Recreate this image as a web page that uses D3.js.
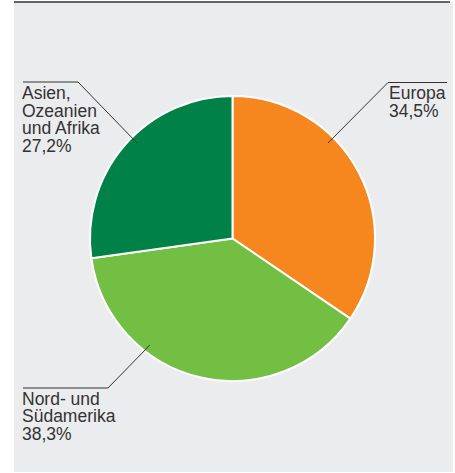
<!DOCTYPE html>
<html>
<head>
<meta charset="utf-8">
<script src="https://cdn.jsdelivr.net/npm/d3@7"></script>
<style>
  html, body { margin: 0; padding: 0; background: #fff; }
  svg { display: block; }
  .label { font-family: "Liberation Sans", Arial, sans-serif; font-size: 17.5px; fill: #333; }
</style>
</head>
<body>
<svg id="chart" width="455" height="473"></svg>
<script>
// data
const regions = ['Europa', 'Nord- und Südamerika', 'Asien, Ozeanien und Afrika'];
const shares = [34.5, 38.3, 27.2];
const labelLines = [
  ['Europa', '34,5%'],
  ['Nord- und', 'Südamerika', '38,3%'],
  ['Asien,', 'Ozeanien', 'und Afrika', '27,2%'],
];
const colors = ['#f6871f', '#73bf44', '#008147'];

// leader layout: angle on pie (deg, clockwise from top), elbow point, end of horizontal, text anchor
const leaders = [
  { angle: 45, elbow: [388, 82.5], end: [447, 82.5], text: [389, 99] },
  { angle: 217.8, elbow: [108, 388], end: [23, 388], text: [22, 404.5] },
  { angle: 315, elbow: [78, 82], end: [23, 82], text: [22, 99] },
];

const svg = d3.select('#chart');

const cx = 232.5;
const cy = 238.5;
const radius = 142.5;

// panel
svg.append('rect')
  .attr('x', 14).attr('y', 2)
  .attr('width', 439).attr('height', 470)
  .attr('fill', '#ebeced');

svg.append('line')
  .attr('x1', 14).attr('x2', 450)
  .attr('y1', 2).attr('y2', 2)
  .attr('stroke', '#333')
  .attr('stroke-width', 1.4);

const pie = d3.pie().sort(null).value((d) => d);
const arcs = pie(shares);
const arc = d3.arc().innerRadius(0).outerRadius(radius);

const g = svg.append('g').attr('transform', `translate(${cx},${cy})`);

g.selectAll('path')
  .data(arcs)
  .join('path')
  .attr('d', arc)
  .attr('fill', (d, i) => colors[i])
  .attr('stroke', '#fff')
  .attr('stroke-width', 2)
  .attr('stroke-linejoin', 'round');

// leader lines and labels
leaders.forEach((l, i) => {
  const a = (l.angle * Math.PI) / 180;
  const r = 135;
  const px = cx + r * Math.sin(a);
  const py = cy - r * Math.cos(a);

  svg.append('polyline')
    .attr('points', [[px, py], l.elbow, l.end].map((p) => p.join(',')).join(' '))
    .attr('fill', 'none')
    .attr('stroke', '#333')
    .attr('stroke-width', 1);

  const t = svg.append('text')
    .attr('class', 'label')
    .attr('x', l.text[0])
    .attr('y', l.text[1]);

  t.selectAll('tspan')
    .data(labelLines[i])
    .join('tspan')
    .attr('x', l.text[0])
    .attr('dy', (d, j) => (j === 0 ? 0 : 17.7))
    .text((d) => d);
});
</script>
</body>
</html>
